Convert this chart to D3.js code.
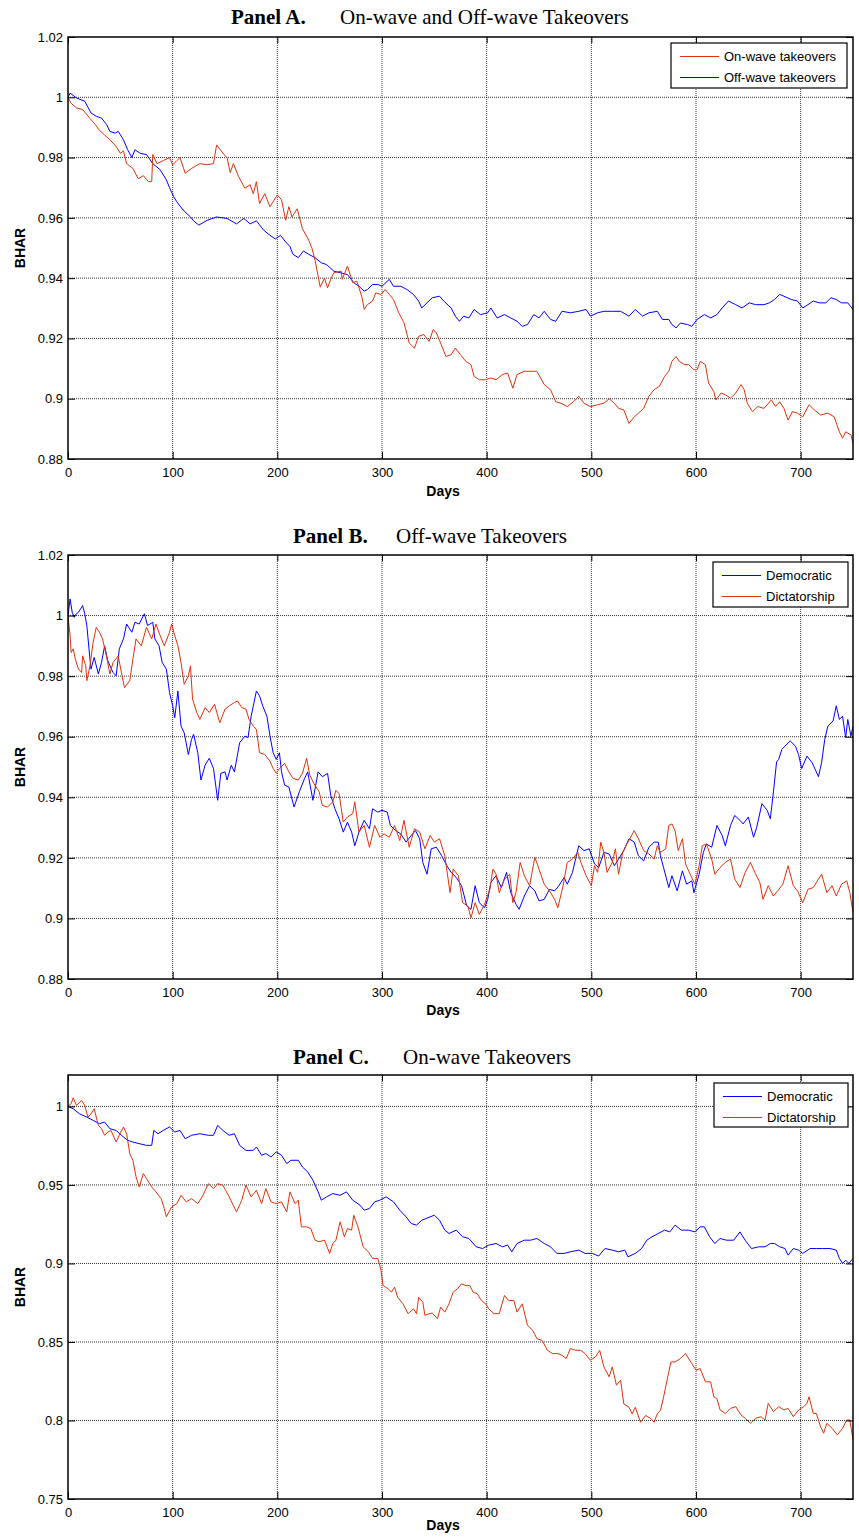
<!DOCTYPE html>
<html>
<head>
<meta charset="utf-8">
<script src="https://cdn.jsdelivr.net/npm/d3@7"></script>
<style>
body { margin: 0; background: #fff; }
text { font-family: "Liberation Sans", Arial, sans-serif; }
</style>
</head>
<body>
<script>
/* global d3 */
//Days on the x axis
var xTicks = [0, 100, 200, 300, 400, 500, 600, 700];

//Panel A series, [day, BHAR]
var aOnWave = [[0,1.0],[3,0.998],[8,0.9965],[14,0.9959],[21,0.993],[26,0.991],[30,0.989],[35,0.9875],[40,0.9859],[46,0.9837],[50,0.9814],[53,0.9822],[56,0.978],[62,0.9764],[67,0.973],[72,0.974],[77,0.972],[80,0.972],[81,0.981],[85,0.978],[91,0.979],[97,0.980],[100,0.9776],[104,0.979],[107,0.980],[112,0.9748],[118,0.9764],[126,0.978],[133,0.9776],[139,0.978],[142,0.9842],[149,0.981],[152,0.980],[155,0.975],[158,0.978],[163,0.9737],[169,0.9698],[174,0.971],[177,0.968],[180,0.972],[183,0.9648],[188,0.968],[193,0.9637],[200,0.9676],[204,0.966],[208,0.9592],[211,0.9637],[214,0.9603],[219,0.963],[224,0.9564],[230,0.9526],[233,0.950],[236,0.946],[241,0.937],[245,0.940],[248,0.9368],[251,0.9396],[254,0.9418],[261,0.9423],[262,0.9396],[267,0.944],[272,0.9385],[276,0.939],[281,0.9335],[283,0.9296],[286,0.9312],[291,0.9324],[294,0.9351],[299,0.9346],[303,0.9362],[307,0.9346],[311,0.9329],[316,0.9285],[321,0.9252],[326,0.9185],[331,0.9168],[335,0.9207],[340,0.9213],[345,0.919],[349,0.923],[352,0.9218],[356,0.9185],[361,0.914],[366,0.9146],[370,0.9168],[375,0.9146],[380,0.9124],[385,0.9113],[388,0.9074],[393,0.9063],[399,0.9063],[404,0.9069],[409,0.9063],[415,0.908],[420,0.9085],[425,0.9035],[429,0.908],[436,0.9091],[442,0.9091],[448,0.9091],[455,0.9047],[461,0.903],[466,0.899],[471,0.8985],[477,0.8974],[483,0.899],[488,0.9008],[493,0.8985],[499,0.8974],[506,0.898],[512,0.8985],[517,0.900],[522,0.8985],[526,0.8968],[531,0.8963],[536,0.8918],[541,0.894],[545,0.8952],[550,0.8968],[555,0.9008],[560,0.903],[565,0.9041],[570,0.9074],[574,0.9091],[577,0.9124],[581,0.914],[584,0.9124],[589,0.9113],[593,0.9113],[598,0.9096],[601,0.9096],[604,0.9124],[609,0.9113],[612,0.9052],[617,0.9024],[619,0.8996],[624,0.9019],[628,0.9013],[633,0.9002],[638,0.9019],[643,0.9047],[646,0.903],[649,0.8985],[654,0.8957],[659,0.8974],[665,0.8968],[672,0.8996],[676,0.8974],[680,0.899],[684,0.8968],[688,0.8929],[692,0.8957],[697,0.8952],[702,0.894],[708,0.898],[713,0.8963],[719,0.8946],[726,0.8952],[732,0.894],[737,0.889],[740,0.8869],[743,0.889],[748,0.888],[750,0.8852]];
var aOffWave = [[0,1.0],[2,1.0014],[8,0.9998],[16,0.9987],[22,0.9948],[27,0.9937],[32,0.9931],[37,0.9909],[40,0.9887],[45,0.9881],[48,0.9887],[53,0.9859],[57,0.9826],[61,0.980],[64,0.9826],[69,0.9814],[75,0.981],[81,0.978],[88,0.976],[94,0.9726],[97,0.970],[101,0.967],[104,0.9653],[110,0.9626],[117,0.9603],[120,0.959],[125,0.9576],[133,0.9592],[142,0.9603],[152,0.9598],[161,0.958],[168,0.9598],[174,0.958],[180,0.959],[187,0.9559],[193,0.9542],[198,0.953],[203,0.9542],[208,0.952],[212,0.9505],[215,0.9479],[220,0.9468],[225,0.949],[230,0.9479],[236,0.9468],[242,0.9451],[247,0.9445],[254,0.9423],[260,0.9418],[267,0.9412],[273,0.9385],[278,0.9373],[283,0.9357],[286,0.9362],[291,0.9379],[296,0.9379],[300,0.9373],[307,0.9396],[311,0.9373],[318,0.9373],[324,0.9362],[330,0.9346],[335,0.9324],[338,0.9301],[343,0.9318],[348,0.9335],[355,0.934],[359,0.9324],[366,0.9301],[370,0.9274],[374,0.9257],[378,0.9274],[383,0.9268],[388,0.9296],[394,0.9279],[401,0.9285],[404,0.9301],[410,0.9268],[417,0.9279],[423,0.9268],[429,0.9257],[434,0.924],[439,0.9246],[445,0.9279],[450,0.9268],[455,0.929],[461,0.9263],[466,0.9257],[472,0.929],[480,0.9285],[488,0.929],[495,0.9296],[499,0.9274],[506,0.9285],[512,0.929],[520,0.929],[528,0.929],[536,0.9274],[542,0.9296],[549,0.9274],[555,0.9285],[563,0.929],[568,0.9263],[574,0.9263],[577,0.9246],[581,0.9235],[585,0.9251],[592,0.9246],[596,0.924],[601,0.9263],[608,0.9279],[614,0.9268],[620,0.9279],[625,0.9301],[631,0.9324],[638,0.9312],[644,0.9301],[651,0.9318],[657,0.9312],[665,0.9312],[670,0.9318],[675,0.9329],[680,0.9346],[684,0.934],[691,0.9329],[697,0.9324],[702,0.9301],[707,0.9312],[712,0.9324],[718,0.9318],[724,0.9318],[729,0.9335],[734,0.9329],[739,0.9318],[745,0.9318],[750,0.9296]];

//Panel B series
var bDemocratic = [[0,1.0],[2,1.0055],[4,1.0011],[6,0.9994],[8,1.0006],[10,1.0011],[14,1.0033],[16,1.0006],[18,0.9967],[21,0.9856],[22,0.9823],[25,0.9862],[29,0.9807],[32,0.9845],[35,0.990],[38,0.9851],[43,0.9812],[46,0.9801],[49,0.989],[53,0.9923],[56,0.9972],[61,0.9945],[64,0.9978],[68,0.9972],[73,1.0006],[76,0.9967],[81,0.9978],[83,0.9923],[87,0.990],[90,0.9845],[94,0.9823],[97,0.9746],[100,0.9702],[102,0.9663],[105,0.9751],[108,0.9635],[111,0.9613],[115,0.9541],[118,0.9591],[120,0.9608],[124,0.9547],[127,0.9457],[131,0.9506],[135,0.9529],[139,0.9495],[143,0.939],[146,0.9479],[150,0.9484],[152,0.9457],[156,0.9506],[159,0.9484],[164,0.958],[169,0.9602],[172,0.9597],[175,0.9668],[180,0.9751],[183,0.9735],[186,0.9702],[190,0.9668],[193,0.9602],[196,0.9547],[199,0.9525],[202,0.9547],[204,0.9484],[207,0.944],[211,0.9434],[216,0.9368],[221,0.9418],[226,0.9462],[229,0.9484],[234,0.939],[239,0.9484],[243,0.9468],[248,0.9479],[251,0.9407],[255,0.9362],[259,0.9329],[263,0.9285],[267,0.9318],[271,0.9285],[274,0.924],[278,0.9285],[283,0.9324],[288,0.9296],[291,0.9362],[296,0.9351],[300,0.9357],[305,0.9351],[308,0.9307],[313,0.929],[318,0.9279],[323,0.9252],[328,0.9274],[332,0.929],[336,0.9263],[339,0.9185],[343,0.9146],[347,0.923],[352,0.9235],[357,0.9207],[362,0.9174],[366,0.9152],[371,0.9135],[376,0.9108],[381,0.9041],[385,0.903],[389,0.9108],[393,0.9052],[398,0.9035],[401,0.9063],[404,0.9119],[409,0.9141],[414,0.9102],[419,0.9152],[423,0.9085],[428,0.9047],[431,0.903],[436,0.9074],[441,0.9108],[446,0.9091],[450,0.9058],[455,0.9063],[460,0.9096],[465,0.9091],[469,0.9108],[474,0.9135],[477,0.9113],[482,0.9152],[485,0.9197],[488,0.924],[493,0.9224],[498,0.923],[503,0.918],[507,0.9168],[512,0.9218],[517,0.9213],[522,0.9174],[526,0.9196],[531,0.9224],[536,0.9263],[541,0.9252],[545,0.9207],[550,0.919],[555,0.9235],[560,0.9252],[564,0.9252],[566,0.9207],[569,0.9168],[574,0.9102],[577,0.9141],[582,0.9091],[587,0.9157],[591,0.9113],[596,0.9124],[598,0.9085],[603,0.9146],[607,0.9218],[610,0.9246],[615,0.9235],[620,0.9307],[625,0.9274],[628,0.924],[633,0.9307],[637,0.934],[642,0.9324],[645,0.9312],[650,0.9335],[655,0.9268],[658,0.9301],[663,0.9379],[668,0.9357],[671,0.9329],[674,0.9418],[677,0.9517],[679,0.9525],[682,0.9558],[685,0.9569],[690,0.9586],[695,0.9569],[698,0.9541],[701,0.9495],[706,0.9536],[711,0.9514],[717,0.9468],[720,0.9514],[723,0.9591],[726,0.9635],[731,0.9652],[734,0.9702],[737,0.9657],[740,0.9668],[743,0.9597],[745,0.9657],[748,0.9602],[750,0.9635]];
var bDictatorship = [[0,1.0],[2,0.9934],[3,0.9878],[5,0.989],[7,0.9856],[10,0.9823],[13,0.9812],[14,0.9867],[17,0.9834],[18,0.9785],[21,0.9834],[24,0.9912],[27,0.9961],[30,0.9945],[33,0.9923],[37,0.9862],[40,0.9807],[43,0.9845],[48,0.9867],[51,0.9812],[54,0.9762],[59,0.9785],[62,0.9856],[65,0.9923],[70,0.990],[75,0.9961],[80,0.9923],[84,0.9972],[88,0.9934],[92,0.990],[97,0.9945],[99,0.9972],[102,0.9934],[105,0.990],[108,0.9845],[111,0.9773],[115,0.9801],[117,0.9834],[119,0.9724],[123,0.968],[126,0.9657],[131,0.9696],[135,0.968],[140,0.9707],[145,0.9646],[150,0.9691],[154,0.9702],[159,0.9713],[162,0.9718],[166,0.9696],[170,0.9691],[173,0.9657],[177,0.9635],[180,0.9624],[183,0.9547],[188,0.9541],[193,0.9519],[196,0.9495],[199,0.9479],[202,0.9495],[207,0.9512],[211,0.9484],[215,0.9462],[220,0.9457],[224,0.9479],[228,0.9529],[231,0.9473],[235,0.9445],[240,0.9418],[243,0.9373],[248,0.9368],[253,0.9385],[256,0.9423],[259,0.9412],[263,0.9318],[267,0.9335],[272,0.9346],[274,0.9385],[278,0.9285],[283,0.9307],[288,0.9235],[293,0.9307],[298,0.9268],[302,0.9279],[307,0.9268],[312,0.9307],[317,0.9257],[321,0.9324],[326,0.9235],[331,0.9296],[336,0.9285],[341,0.923],[346,0.9274],[350,0.9252],[355,0.9263],[360,0.9207],[365,0.9085],[368,0.9163],[373,0.9141],[377,0.9052],[382,0.9041],[385,0.9002],[389,0.9052],[393,0.9013],[398,0.9047],[403,0.9096],[406,0.9163],[409,0.9146],[412,0.9085],[417,0.913],[422,0.9146],[425,0.9052],[428,0.9085],[432,0.9185],[436,0.9141],[441,0.9108],[446,0.9202],[450,0.9163],[455,0.9113],[460,0.9091],[465,0.9063],[468,0.9035],[473,0.9108],[477,0.9185],[482,0.9196],[487,0.9218],[490,0.9185],[495,0.9141],[500,0.9108],[503,0.9174],[506,0.9152],[509,0.9252],[512,0.9218],[515,0.9152],[520,0.9185],[523,0.923],[526,0.9146],[530,0.9218],[534,0.9246],[541,0.929],[545,0.9263],[550,0.9224],[555,0.9213],[560,0.9196],[563,0.924],[566,0.9218],[571,0.923],[574,0.9307],[577,0.9312],[580,0.929],[583,0.9224],[587,0.9263],[590,0.918],[595,0.9141],[599,0.9113],[603,0.9174],[606,0.924],[610,0.9246],[615,0.9196],[618,0.9146],[623,0.9168],[628,0.9185],[633,0.9196],[637,0.913],[642,0.9102],[647,0.9152],[652,0.9185],[657,0.9146],[661,0.9119],[664,0.9063],[669,0.9108],[674,0.9074],[678,0.9091],[683,0.9113],[688,0.9174],[693,0.9108],[697,0.9091],[702,0.9052],[707,0.9096],[712,0.9102],[717,0.913],[720,0.9146],[725,0.9085],[730,0.9108],[734,0.9074],[739,0.9113],[744,0.9124],[747,0.9085],[750,0.9019]];

//Panel C series
var cDemocratic = [[0,1.0],[5,0.9985],[11,0.9953],[18,0.9932],[24,0.9911],[30,0.989],[35,0.990],[40,0.9858],[46,0.9847],[51,0.9816],[57,0.9784],[62,0.9773],[68,0.9763],[75,0.9752],[80,0.9752],[82,0.9847],[86,0.9826],[91,0.9847],[97,0.9869],[102,0.9837],[107,0.9847],[112,0.9794],[118,0.9816],[126,0.9826],[134,0.9816],[139,0.9816],[143,0.9879],[148,0.9847],[154,0.9816],[159,0.9826],[164,0.9752],[170,0.972],[177,0.972],[180,0.9742],[185,0.9689],[189,0.97],[194,0.9678],[199,0.971],[204,0.9689],[209,0.9636],[213,0.9657],[220,0.9657],[224,0.9614],[229,0.9583],[234,0.953],[239,0.9456],[242,0.9403],[247,0.9424],[253,0.9445],[260,0.9434],[266,0.9456],[272,0.9403],[279,0.9371],[283,0.9339],[288,0.935],[293,0.9392],[298,0.9403],[304,0.9424],[311,0.9392],[317,0.9339],[323,0.9297],[328,0.9254],[333,0.9244],[338,0.9275],[342,0.9286],[350,0.9307],[355,0.9275],[360,0.9212],[364,0.9191],[371,0.9212],[377,0.917],[383,0.9159],[390,0.9106],[396,0.9095],[402,0.9117],[409,0.9127],[415,0.9106],[420,0.9117],[424,0.9074],[429,0.9127],[436,0.9148],[442,0.9148],[448,0.9159],[455,0.9127],[461,0.9106],[467,0.9064],[474,0.9064],[480,0.9074],[488,0.9085],[494,0.9064],[501,0.9064],[507,0.9047],[513,0.9095],[520,0.9085],[526,0.9074],[532,0.9085],[535,0.9042],[542,0.9064],[548,0.9095],[553,0.9148],[558,0.917],[564,0.9191],[570,0.9212],[575,0.9201],[580,0.9244],[586,0.9212],[593,0.9212],[599,0.9201],[604,0.9233],[608,0.9233],[613,0.917],[618,0.9127],[623,0.9159],[629,0.9148],[636,0.9148],[642,0.9201],[647,0.9148],[653,0.9095],[660,0.9106],[666,0.9106],[671,0.9127],[675,0.9127],[680,0.9106],[685,0.9095],[688,0.9053],[693,0.9095],[698,0.9085],[702,0.9064],[709,0.9095],[715,0.9095],[721,0.9095],[728,0.9095],[734,0.9085],[737,0.9032],[740,0.9],[743,0.9021],[746,0.9],[750,0.9032]];
var cDictatorship = [[0,1.0],[3,1.0017],[5,1.0055],[8,1.0006],[13,1.0038],[16,1.0006],[19,0.9932],[22,0.9953],[25,0.9985],[29,0.9879],[32,0.9858],[35,0.9816],[38,0.9837],[41,0.9847],[46,0.9773],[49,0.9816],[53,0.9869],[56,0.9826],[59,0.9699],[62,0.9657],[65,0.9551],[68,0.9487],[72,0.9572],[75,0.954],[80,0.9487],[84,0.9456],[89,0.9413],[92,0.935],[94,0.9297],[99,0.936],[104,0.9381],[108,0.9434],[113,0.9392],[118,0.9413],[124,0.9381],[129,0.9434],[134,0.9508],[139,0.9477],[143,0.9508],[148,0.9498],[154,0.9424],[161,0.9328],[166,0.9403],[170,0.9498],[175,0.9424],[180,0.9466],[185,0.9381],[189,0.9477],[194,0.9392],[199,0.9381],[204,0.9392],[209,0.9328],[212,0.9456],[217,0.9381],[220,0.9403],[223,0.9233],[228,0.9233],[232,0.9222],[236,0.9148],[240,0.9138],[245,0.9148],[250,0.9064],[253,0.9127],[256,0.9148],[260,0.9265],[264,0.917],[267,0.9222],[271,0.9212],[273,0.9307],[277,0.9233],[282,0.9106],[287,0.9074],[291,0.9032],[296,0.9032],[299,0.8958],[301,0.886],[306,0.8838],[309,0.8817],[312,0.8849],[315,0.8785],[320,0.8743],[325,0.868],[330,0.8711],[333,0.868],[335,0.8785],[339,0.8754],[341,0.8669],[345,0.868],[348,0.8684],[353,0.8648],[356,0.8722],[360,0.869],[364,0.8743],[368,0.8817],[372,0.8838],[376,0.887],[380,0.8859],[384,0.8859],[387,0.8817],[391,0.8807],[395,0.8764],[399,0.8743],[402,0.8711],[407,0.868],[412,0.868],[417,0.8796],[421,0.8764],[426,0.8764],[429,0.869],[434,0.8743],[439,0.8606],[444,0.8574],[448,0.8521],[453,0.851],[458,0.8447],[463,0.8426],[468,0.8426],[472,0.8415],[476,0.8394],[480,0.8458],[485,0.8447],[490,0.8447],[494,0.8426],[499,0.8384],[504,0.8405],[508,0.8447],[512,0.8341],[517,0.8278],[520,0.8341],[524,0.8225],[528,0.8257],[531,0.8106],[536,0.8084],[539,0.8042],[542,0.8084],[547,0.7989],[552,0.8032],[557,0.8011],[560,0.7989],[563,0.8042],[566,0.8063],[569,0.8148],[573,0.8278],[576,0.8373],[580,0.8373],[585,0.8394],[590,0.8426],[595,0.8373],[600,0.832],[604,0.8331],[609,0.8246],[614,0.8246],[617,0.8151],[620,0.814],[623,0.8067],[628,0.8045],[633,0.8077],[638,0.8088],[643,0.8035],[647,0.8014],[652,0.7982],[657,0.8014],[662,0.8024],[666,0.8003],[669,0.8109],[674,0.8056],[679,0.8088],[684,0.8067],[688,0.8077],[693,0.8024],[698,0.8067],[703,0.8088],[706,0.8109],[708,0.8151],[712,0.8045],[715,0.8045],[719,0.7961],[722,0.7919],[725,0.7982],[730,0.795],[735,0.7908],[740,0.795],[744,0.8003],[747,0.8003],[750,0.7876]];

//y tick labels per panel
var abTicks = [0.88, 0.9, 0.92, 0.94, 0.96, 0.98, 1, 1.02];
var cTicks = [0.75, 0.8, 0.85, 0.9, 0.95, 1];

var red = "#e1320a";
var blue = "#0000ff";

var width = 859;
var height = 1537;

var svg = d3.select("body")
    .append("svg")
    .attr("width", width)
    .attr("height", height);

var x = d3.scaleLinear()
    .domain([0, 750])
    .range([68, 853]);

var line = function(y) {
    return d3.line()
        .x(function(d) { return x(d[0]); })
        .y(function(d) { return y(d[1]); });
};

var panels = [
    {id: "A", top: 37, bottom: 459, domain: [0.88, 1.02], ticks: abTicks,
     titleY: 24, headX: 231, subX: 340, head: "Panel A.", sub: "On-wave and Off-wave Takeovers",
     daysY: 496,
     legend: {x: 671, y: 43, w: 176, h: 45},
     series: [{name: "On-wave takeovers", color: red, data: aOnWave},
              {name: "Off-wave takeovers", color: blue, data: aOffWave}],
     order: [1, 0]},
    {id: "B", top: 555, bottom: 979, domain: [0.88, 1.02], ticks: abTicks,
     titleY: 543, headX: 293, subX: 396, head: "Panel B.", sub: "Off-wave Takeovers",
     daysY: 1015,
     legend: {x: 713, y: 562, w: 135, h: 45},
     series: [{name: "Democratic", color: blue, data: bDemocratic},
              {name: "Dictatorship", color: red, data: bDictatorship}],
     order: [0, 1]},
    {id: "C", top: 1075, bottom: 1499, domain: [0.75, 1.02], ticks: cTicks,
     titleY: 1064, headX: 293, subX: 403, head: "Panel C.", sub: "On-wave Takeovers",
     daysY: 1530,
     legend: {x: 714, y: 1083, w: 134, h: 44},
     series: [{name: "Democratic", color: blue, data: cDemocratic},
              {name: "Dictatorship", color: red, data: cDictatorship}],
     order: [0, 1]}
];

panels.forEach(function(p) {
    var y = d3.scaleLinear()
        .domain(p.domain)
        .range([p.bottom, p.top]);

    var g = svg.append("g");

    //title
    g.append("text")
        .attr("x", p.headX)
        .attr("y", p.titleY)
        .style("font-family", "'Liberation Serif', 'Times New Roman', serif")
        .style("font-size", "21px")
        .style("font-weight", "bold")
        .text(p.head);
    g.append("text")
        .attr("x", p.subX)
        .attr("y", p.titleY)
        .style("font-family", "'Liberation Serif', 'Times New Roman', serif")
        .style("font-size", "21px")
        .text(p.sub);

    //grid
    g.selectAll(".vgrid")
        .data(xTicks.slice(1))
        .enter().append("line")
        .attr("x1", function(d) { return x(d); })
        .attr("x2", function(d) { return x(d); })
        .attr("y1", p.top)
        .attr("y2", p.bottom)
        .attr("stroke", "#333")
        .attr("stroke-dasharray", "1,1");
    g.selectAll(".hgrid")
        .data(p.ticks.filter(function(t) { return t > p.domain[0] && t < p.domain[1]; }))
        .enter().append("line")
        .attr("x1", x(0))
        .attr("x2", x(750))
        .attr("y1", function(d) { return y(d); })
        .attr("y2", function(d) { return y(d); })
        .attr("stroke", "#333")
        .attr("stroke-dasharray", "1,1");

    //clip
    svg.append("clipPath")
        .attr("id", "clip" + p.id)
        .append("rect")
        .attr("x", x(0))
        .attr("y", p.top)
        .attr("width", x(750) - x(0))
        .attr("height", p.bottom - p.top);

    //series
    p.order.forEach(function(i) {
        var s = p.series[i];
        g.append("path")
            .datum(s.data)
            .attr("clip-path", "url(#clip" + p.id + ")")
            .attr("fill", "none")
            .attr("stroke", s.color)
            .attr("stroke-width", 1)
            .attr("stroke-linejoin", "round")
            .attr("d", line(y));
    });

    //axes (ticks point inward)
    var fmt = d3.format("~g");
    var bottomAxis = g.append("g")
        .attr("transform", "translate(0," + p.bottom + ")")
        .call(d3.axisBottom(x).tickValues(xTicks).tickSize(-7).tickPadding(9));
    var topAxis = g.append("g")
        .attr("transform", "translate(0," + p.top + ")")
        .call(d3.axisTop(x).tickValues(xTicks).tickSize(-6).tickFormat(""));
    var leftAxis = g.append("g")
        .attr("transform", "translate(" + x(0) + ",0)")
        .call(d3.axisLeft(y).tickValues(p.ticks).tickSize(-7).tickPadding(5).tickFormat(fmt));
    var rightAxis = g.append("g")
        .attr("transform", "translate(" + x(750) + ",0)")
        .call(d3.axisRight(y).tickValues(p.ticks).tickSize(-7).tickFormat(""));

    [bottomAxis, topAxis, leftAxis, rightAxis].forEach(function(a) {
        a.select(".domain").remove();
        a.selectAll("text")
            .attr("fill", "#000")
            .style("font-family", "'Liberation Sans', Arial, sans-serif")
            .style("font-size", "13px");
        a.selectAll("line").attr("stroke", "#000");
    });

    //box
    g.append("rect")
        .attr("x", x(0))
        .attr("y", p.top)
        .attr("width", x(750) - x(0))
        .attr("height", p.bottom - p.top)
        .attr("fill", "none")
        .attr("stroke", "#000")
        .attr("stroke-width", 1.5);

    //axis labels
    g.append("text")
        .attr("x", 443)
        .attr("y", p.daysY)
        .attr("text-anchor", "middle")
        .style("font-size", "14px")
        .style("font-weight", "bold")
        .text("Days");
    g.append("text")
        .attr("transform", "translate(25," + ((p.top + p.bottom) / 2) + ") rotate(-90)")
        .attr("text-anchor", "middle")
        .style("font-size", "14px")
        .style("font-weight", "bold")
        .text("BHAR");

    //legend
    var L = p.legend;
    var lg = g.append("g").attr("transform", "translate(" + L.x + "," + L.y + ")");
    lg.append("rect")
        .attr("width", L.w)
        .attr("height", L.h)
        .attr("fill", "#fff")
        .attr("stroke", "#000")
        .attr("stroke-width", 1.2);
    p.series.forEach(function(s, i) {
        var ry = 13.5 + i * 21;
        lg.append("line")
            .attr("x1", 9)
            .attr("x2", 48)
            .attr("y1", ry)
            .attr("y2", ry)
            .attr("stroke", s.color)
            .attr("stroke-width", 1);
        lg.append("text")
            .attr("x", 53)
            .attr("y", ry)
            .attr("dy", "0.35em")
            .style("font-size", "13px")
            .text(s.name);
    });
});
</script>
</body>
</html>
